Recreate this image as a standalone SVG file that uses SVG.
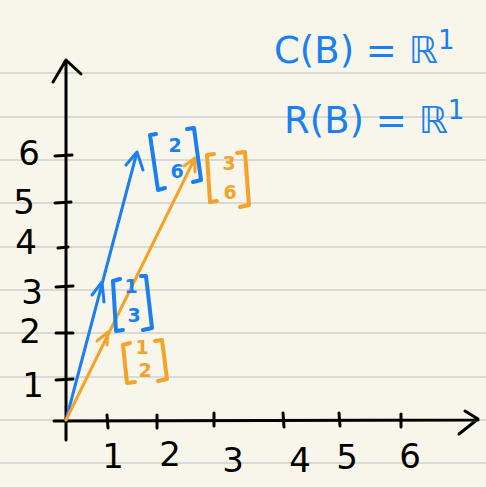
<svg xmlns="http://www.w3.org/2000/svg" width="486" height="487" viewBox="0 0 486 487">
<style>
.rule{stroke:#d9d9d6;stroke-width:2}
.ax{fill:none;stroke:#000;stroke-width:3;stroke-linecap:round;stroke-linejoin:round}
.blue{fill:none;stroke:#1a7ff0;stroke-width:3;stroke-linecap:round;stroke-linejoin:round}
.orange{fill:none;stroke:#f5a228;stroke-width:3;stroke-linecap:round;stroke-linejoin:round}
.br{stroke-width:4}
.num{font-family:"DejaVu Sans","Liberation Sans",sans-serif;font-size:34px;fill:#000;text-anchor:middle}
.bn{font-family:"DejaVu Sans","Liberation Sans",sans-serif;font-size:19px;text-anchor:middle;font-weight:bold}
.eq{font-family:"DejaVu Sans","Liberation Sans",sans-serif;font-size:37px;fill:#1a7ff0}
</style>
<rect width="486" height="487" fill="#f8f6ea"/>
<g id="rules">
<line class="rule" x1="0" y1="73" x2="486" y2="73"/>
<line class="rule" x1="0" y1="117" x2="486" y2="117"/>
<line class="rule" x1="0" y1="160" x2="486" y2="160"/>
<line class="rule" x1="0" y1="203" x2="486" y2="203"/>
<line class="rule" x1="0" y1="247" x2="486" y2="247"/>
<line class="rule" x1="0" y1="290" x2="486" y2="290"/>
<line class="rule" x1="0" y1="333" x2="486" y2="333"/>
<line class="rule" x1="0" y1="377" x2="486" y2="377"/>
<line class="rule" x1="0" y1="420" x2="486" y2="420"/>
<line class="rule" x1="0" y1="463" x2="486" y2="463"/>
</g>
<g id="axes">
<path class="ax" d="M66,440 L66,60 M53,82 L66,60 L81,74"/>
<path class="ax" d="M54,421 L478,420 M465,411 L478,419 L459,434"/>
<path class="ax" d="M107,415 L108,428 M157,415 L157,428 M214,413 L214,426 M283,413 L284,427 M339,413 L340,426 M401,414 L401,427"/>
<path class="ax" d="M56,380 L73,379 M56,333 L73,333 M56,287 L73,286 M58,248 L68,247 M55,203 L71,202 M55,156 L72,155"/>
</g>
<g id="axis-labels">
<text class="num" x="113" y="468">1</text>
<text class="num" x="170" y="466">2</text>
<text class="num" x="233" y="472">3</text>
<text class="num" x="300" y="472">4</text>
<text class="num" x="347" y="469">5</text>
<text class="num" x="410" y="468">6</text>
<text class="num" x="33" y="397">1</text>
<text class="num" x="30" y="343">2</text>
<text class="num" x="32" y="304">3</text>
<text class="num" x="26" y="254">4</text>
<text class="num" x="24" y="214">5</text>
<text class="num" x="29" y="165">6</text>
</g>
<g id="connectors">
<path class="blue" d="M66,420 L137,152 M126,165 L137,152 L143,170 M92,295 L102,282 L104,302"/>
<path class="orange" d="M66,420 L195,158 M184,166 L195,158 L195,172"/>
<path class="orange" stroke-width="4" d="M97,341 L108,332 L107,345"/>
</g>
<g id="v26">
<path class="blue br" d="M156,134 L150,135 L158,190 L165,188 M187,129 L194,128 L201,180 L193,182"/>
<text class="bn" x="175" y="152" fill="#1a7ff0">2</text>
<text class="bn" x="177" y="178" fill="#1a7ff0">6</text>
</g>
<g id="v36">
<path class="orange br" d="M214,154 L207,155 L210,202 L217,201 M237,153 L245,152 L249,205 L240,207"/>
<text class="bn" x="229" y="170" fill="#f5a228">3</text>
<text class="bn" x="230" y="199" fill="#f5a228">6</text>
</g>
<g id="v13">
<path class="blue br" d="M120,279 L113,281 L116,331 L123,330 M141,276 L146,276 L152,328 L143,330"/>
<text class="bn" x="131" y="293" fill="#1a7ff0">1</text>
<text class="bn" x="134" y="322" fill="#1a7ff0">3</text>
</g>
<g id="v12">
<path class="orange br" d="M130,343 L123,345 L127,383 L135,382 M155,341 L162,340 L167,379 L158,381"/>
<text class="bn" x="142" y="354" fill="#f5a228" font-size="14">1</text>
<text class="bn" x="145" y="377" fill="#f5a228" font-size="14">2</text>
</g>
<g id="equations">
<text class="eq" x="274" y="63">C(B) = ℝ<tspan font-size="26" dy="-14">1</tspan></text>
<text class="eq" x="284" y="133">R(B) = ℝ<tspan font-size="26" dy="-14">1</tspan></text>
</g>
</svg>
